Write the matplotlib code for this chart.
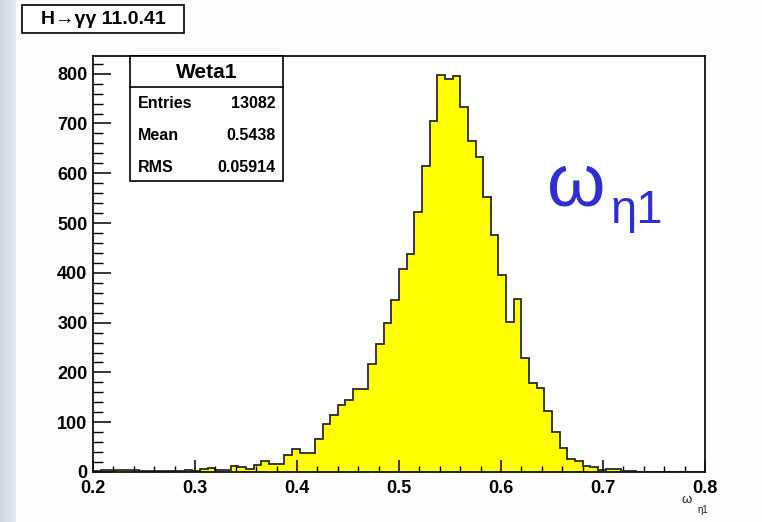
import numpy as np
import matplotlib
matplotlib.use("Agg")
import matplotlib.pyplot as plt
from matplotlib.patches import Rectangle
from matplotlib.ticker import MultipleLocator

# Weta1 shower-shape distribution, 80 bins on [0.2, 0.8]
x_min, x_max, n_bins = 0.2, 0.8, 80
counts = [
    3, 5, 5, 4, 5, 4, 2, 2, 3, 2, 2, 3, 4, 3, 6, 9, 5, 5, 13, 10, 7, 14,
    22, 16, 16, 34, 46, 39, 39, 66, 96, 115, 135, 145, 166, 166,
    216, 258, 300, 345, 408, 438, 523, 615, 704, 797, 790, 795, 733, 665,
    633, 553, 476, 395, 302, 348, 228, 178, 168, 123, 80, 49,
    26, 22, 12, 10, 5, 6, 6, 2, 2, 1, 0, 0, 1, 0, 0, 0, 0, 0,
]
y_ticks = [0, 100, 200, 300, 400, 500, 600, 700, 800]
x_ticks = [0.2, 0.3, 0.4, 0.5, 0.6, 0.7, 0.8]

hist_name = "Weta1"
stat_labels = ["Entries", "Mean", "RMS"]
stat_values = ["13082", "0.5438", "0.05914"]
title_text = "H\u2192\u03b3\u03b3 11.0.41"

W, H = 762, 522
FONT = ["Liberation Sans", "DejaVu Sans"]
plt.rcParams["font.family"] = FONT

fig = plt.figure(figsize=(W / 100, H / 100), dpi=100)
fig.patch.set_facecolor("#fdfdfd")


def fx(px):
    return px / W


def fy(py):
    return 1 - py / H


# shaded strip along the left border
strip = fig.add_axes([0, 0, fx(16), 1])
strip.imshow(np.linspace(0, 1, 32).reshape(1, -1), aspect="auto",
             cmap=matplotlib.colors.LinearSegmentedColormap.from_list(
                 "strip", ["#cfd8de", "#e4eaed"]),
             extent=[0, 1, 0, 1])
strip.axis("off")

ax = fig.add_axes([fx(93), fy(472), fx(705 - 93), fy(56) - fy(472)])
ax.set_facecolor("white")

edges = np.linspace(x_min, x_max, n_bins + 1)
ax.stairs(counts, edges, fill=True, facecolor="#ffff00", edgecolor="none")
ax.stairs(counts, edges, fill=False, color="#2a2a2a", linewidth=1.3)

ax.set_xlim(x_min, x_max)
ax.set_ylim(0, 835.5)
ax.set_xticks(x_ticks)
ax.set_yticks(y_ticks)
ax.xaxis.set_minor_locator(MultipleLocator(0.02))
ax.yaxis.set_minor_locator(MultipleLocator(20))
ax.set_xticklabels([f"{v:.1f}" for v in x_ticks])
ax.set_yticklabels([str(v) for v in y_ticks])

ax.tick_params(axis="y", which="major", direction="in", length=13, width=1.1,
               pad=4, labelsize=13)
ax.tick_params(axis="y", which="minor", direction="in", length=7, width=1.0)
ax.tick_params(axis="x", which="major", direction="in", length=8.6, width=1.1,
               pad=6, labelsize=13)
ax.tick_params(axis="x", which="minor", direction="in", length=4.3, width=1.0)
for lab in ax.get_xticklabels() + ax.get_yticklabels():
    lab.set_fontweight("bold")
for sp in ax.spines.values():
    sp.set_linewidth(1.3)
    sp.set_color("#111111")

# axis title at the lower right
fig.text(fx(682), fy(500), "\u03c9", fontsize=9.5, ha="left", va="center",
         color="#222222")
fig.text(fx(698), fy(510), "\u03b71", fontsize=7, ha="left", va="center",
         color="#222222")

# histogram title box
fig.patches.append(Rectangle((fx(22), fy(33)), fx(184 - 22), fy(5) - fy(33),
                             transform=fig.transFigure, facecolor="white",
                             edgecolor="black", linewidth=1.2))
fig.text(fx(103), fy(19), title_text, fontsize=14, fontweight="bold",
         ha="center", va="center")

# statistics box
fig.patches.append(Rectangle((fx(130), fy(181)), fx(283 - 130), fy(56) - fy(181),
                             transform=fig.transFigure, facecolor="white",
                             edgecolor="black", linewidth=1.2, zorder=5))
fig.lines.append(matplotlib.lines.Line2D([fx(130), fx(283)], [fy(87), fy(87)],
                                         transform=fig.transFigure,
                                         color="black", linewidth=1.2, zorder=6))
fig.text(fx(206.5), fy(72), hist_name, fontsize=15, fontweight="bold",
         ha="center", va="center", zorder=7)
for i, (lab, val) in enumerate(zip(stat_labels, stat_values)):
    yy = fy(104 + i * 31.5)
    fig.text(fx(138), yy, lab, fontsize=11.5, fontweight="bold",
             ha="left", va="center", zorder=7)
    fig.text(fx(276), yy, val, fontsize=11.5, fontweight="bold",
             ha="right", va="center", zorder=7)

# large annotation
fig.text(fx(547), fy(186), "\u03c9", fontsize=54, color="#2e2ed2",
         ha="left", va="center")
fig.text(fx(611), fy(211), "\u03b71", fontsize=34, color="#2e2ed2",
         ha="left", va="center")

fig.savefig("out.png", dpi=100, facecolor=fig.get_facecolor())
